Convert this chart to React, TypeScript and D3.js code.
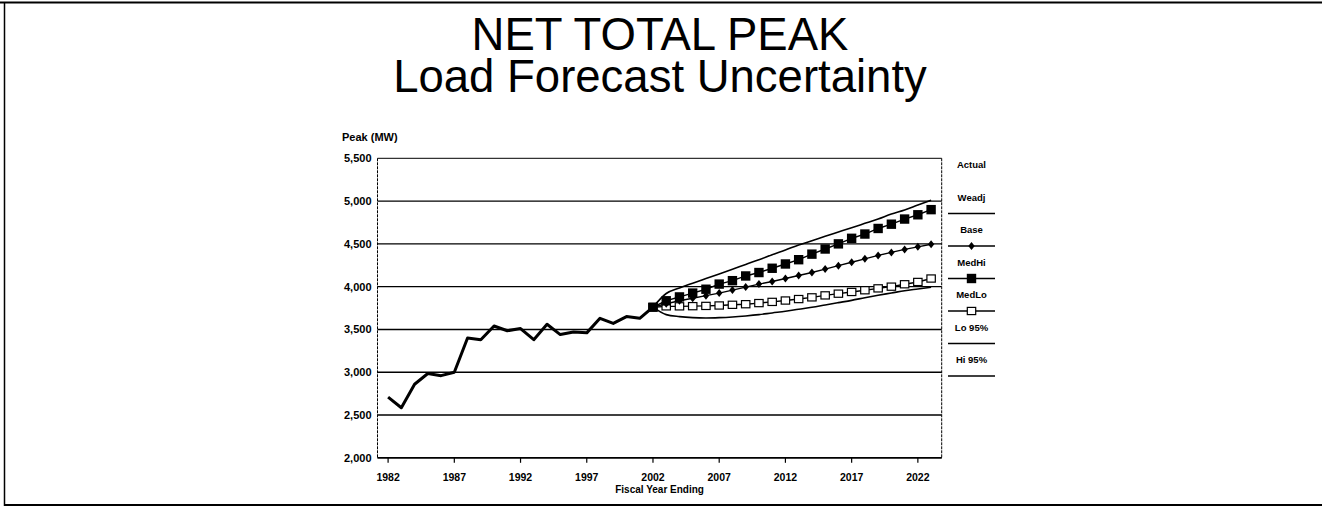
import React from "react";
import * as d3 from "d3";

const actualYears = [1982, 1983, 1984, 1985, 1986, 1987, 1988, 1989, 1990, 1991, 1992, 1993, 1994, 1995, 1996, 1997, 1998, 1999, 2000, 2001, 2002];
const actualPeak = [2710, 2585, 2860, 2985, 2960, 3000, 3400, 3380, 3540, 3485, 3510, 3380, 3560, 3440, 3470, 3460, 3630, 3570, 3650, 3630, 3760];

const forecastYears = [2002, 2003, 2004, 2005, 2006, 2007, 2008, 2009, 2010, 2011, 2012, 2013, 2014, 2015, 2016, 2017, 2018, 2019, 2020, 2021, 2022, 2023];
const baseForecast = [3760, 3800, 3835, 3865, 3895, 3925, 3960, 3995, 4030, 4060, 4095, 4130, 4165, 4205, 4245, 4285, 4325, 4365, 4400, 4435, 4465, 4495];
const medHiForecast = [3760, 3835, 3880, 3925, 3970, 4030, 4070, 4125, 4165, 4215, 4265, 4315, 4380, 4440, 4500, 4565, 4615, 4680, 4730, 4790, 4840, 4900];
const medLoForecast = [3760, 3770, 3770, 3772, 3775, 3780, 3788, 3795, 3808, 3822, 3838, 3855, 3875, 3898, 3918, 3938, 3958, 3980, 4000, 4028, 4055, 4095];
const hi95Forecast = [3760, 3920, 3985, 4040, 4094, 4148, 4203, 4260, 4315, 4374, 4429, 4487, 4537, 4589, 4639, 4689, 4740, 4791, 4849, 4896, 4954, 5010];
const lo95Forecast = [3760, 3673, 3650, 3638, 3634, 3638, 3646, 3658, 3673, 3693, 3712, 3736, 3759, 3786, 3813, 3840, 3871, 3900, 3926, 3953, 3973, 3993];

const xTickYears = [1982, 1987, 1992, 1997, 2002, 2007, 2012, 2017, 2022];
const yTickValues = [2000, 2500, 3000, 3500, 4000, 4500, 5000, 5500];
const legendLabels = ["Actual", "Weadj", "Base", "MedHi", "MedLo", "Lo 95%", "Hi 95%"];
const legendMarkers = ["none", "line", "diamond", "filled", "open", "line", "line"];

const FONT = "'Liberation Sans', Arial, sans-serif";

export default function App() {
  const W = 1322, H = 508;
  const left = 377.5, right = 941.7, top = 158.3, bottom = 457.8;
  const x = d3.scaleLinear().domain([1981.2, 2023.8]).range([left, right]);
  const y = d3.scaleLinear().domain([2000, 5500]).range([bottom, top]);
  const fmt = d3.format(",");

  const lin = d3.line<[number, number]>().x(d => x(d[0])).y(d => y(d[1]));
  const smooth = d3.line<[number, number]>().x(d => x(d[0])).y(d => y(d[1])).curve(d3.curveMonotoneX);

  const pairs = (ys: number[], vs: number[]) => ys.map((yr, i) => [yr, vs[i]] as [number, number]);
  const actualPts = pairs(actualYears, actualPeak);
  const basePts = pairs(forecastYears, baseForecast);
  const hiPts = pairs(forecastYears, medHiForecast);
  const loPts = pairs(forecastYears, medLoForecast);
  const hi95Pts = pairs(forecastYears, hi95Forecast);
  const lo95Pts = pairs(forecastYears, lo95Forecast);

  const diamond = (cx: number, cy: number, k: string) => (
    <path key={k} d={`M${cx},${cy - 4} L${cx + 3.2},${cy} L${cx},${cy + 4} L${cx - 3.2},${cy} Z`} fill="#000" />
  );
  const fsq = (cx: number, cy: number, k: string) => (
    <rect key={k} x={cx - 4.7} y={cy - 4.7} width={9.4} height={9.4} fill="#000" />
  );
  const osq = (cx: number, cy: number, k: string) => (
    <rect key={k} x={cx - 4.2} y={cy - 3.6} width={8.4} height={7.2} fill="#fff" stroke="#000" strokeWidth={1.2} />
  );

  const legX0 = 948, legX1 = 995, legCx = 971.5;

  return (
    <svg width={W} height={H} style={{ position: "absolute", left: 0, top: 0, background: "#fff" }} fontFamily={FONT}>
      <rect x={0} y={0} width={W} height={H} fill="#fff" />
      {/* outer frame */}
      <line x1={0} x2={W} y1={2.5} y2={2.5} stroke="#000" strokeWidth={2} />
      <line x1={4.5} x2={4.5} y1={2} y2={506} stroke="#000" strokeWidth={1.5} />
      <line x1={4} x2={W} y1={505} y2={505} stroke="#000" strokeWidth={2} />

      {/* titles */}
      <text x={660} y={50} textAnchor="middle" fontSize={45.5} fill="#000">
        <tspan x={660} y={50}>NET TOTAL PEAK</tspan>
        <tspan x={660} y={92}>Load Forecast Uncertainty</tspan>
      </text>

      {/* y axis title */}
      <text x={342} y={141} fontSize={11} fontWeight="bold" fill="#000">Peak (MW)</text>

      {/* gridlines */}
      {yTickValues.map(v => (
        <line key={"g" + v} x1={left} x2={right} y1={y(v)} y2={y(v)} stroke="#000" strokeWidth={v === 5500 ? 1 : 1.4} />
      ))}
      {/* plot frame */}
      <line x1={left} x2={left} y1={top} y2={bottom} stroke="#000" strokeWidth={1} strokeDasharray="3,1" />
      <line x1={right} x2={right} y1={top} y2={bottom} stroke="#000" strokeWidth={1} strokeDasharray="3,1" />
      <line x1={left} x2={right} y1={bottom} y2={bottom} stroke="#000" strokeWidth={1.6} />

      {/* y labels */}
      {yTickValues.map(v => (
        <text key={"yl" + v} x={371.5} y={y(v) + 4} textAnchor="end" fontSize={11} fontWeight="bold" fill="#000">{fmt(v)}</text>
      ))}
      {/* x ticks & labels */}
      {xTickYears.map(yr => (
        <g key={"xt" + yr}>
          <line x1={x(yr)} x2={x(yr)} y1={bottom} y2={bottom + 5} stroke="#000" strokeWidth={1.2} />
          <text x={x(yr)} y={480.5} textAnchor="middle" fontSize={10.5} fontWeight="bold" fill="#000">{yr}</text>
        </g>
      ))}
      <text x={(left + right) / 2} y={493} textAnchor="middle" fontSize={10} fontWeight="bold" fill="#000">Fiscal Year Ending</text>

      {/* series */}
      <path d={lin(actualPts) || ""} fill="none" stroke="#000" strokeWidth={3} strokeLinejoin="round" />
      <path d={smooth(hi95Pts) || ""} fill="none" stroke="#000" strokeWidth={1.6} />
      <path d={smooth(lo95Pts) || ""} fill="none" stroke="#000" strokeWidth={1.6} />
      <path d={lin(loPts) || ""} fill="none" stroke="#000" strokeWidth={1.4} />
      {loPts.map((p, i) => osq(x(p[0]), y(p[1]), "lo" + i))}
      <path d={lin(basePts) || ""} fill="none" stroke="#000" strokeWidth={1.4} />
      {basePts.map((p, i) => diamond(x(p[0]), y(p[1]), "b" + i))}
      <path d={lin(hiPts) || ""} fill="none" stroke="#000" strokeWidth={1.4} />
      {hiPts.map((p, i) => fsq(x(p[0]), y(p[1]), "hi" + i))}

      {/* legend */}
      {legendLabels.map((lab, i) => {
        const ty = 168 + i * 32.5;
        const ly = ty + 13;
        const m = legendMarkers[i];
        return (
          <g key={"leg" + i}>
            <text x={legCx} y={ty} textAnchor="middle" fontSize={9.5} fontWeight="bold" fill="#000">{lab}</text>
            {m !== "none" && <line x1={legX0} x2={legX1} y1={ly} y2={ly} stroke="#000" strokeWidth={1.4} />}
            {m === "diamond" && diamond(legCx, ly, "ld")}
            {m === "filled" && fsq(legCx, ly, "lf")}
            {m === "open" && osq(legCx, ly, "lo")}
          </g>
        );
      })}
    </svg>
  );
}
